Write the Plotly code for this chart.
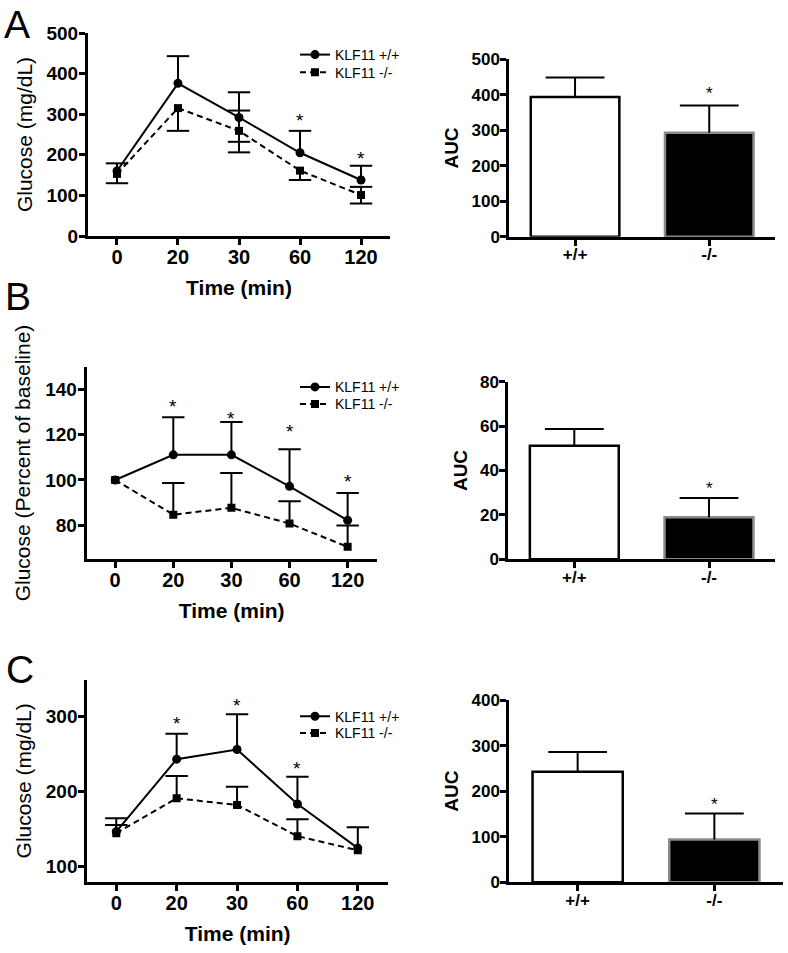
import plotly.graph_objects as go

# ---------------- data ----------------
time_labels = ["0", "20", "30", "60", "120"]
series_names = ["KLF11 +/+", "KLF11 -/-"]
bar_labels = ["+/+", "-/-"]

# Panel A (glucose mg/dL)
a_wt = [160, 376, 292, 205, 138]
a_wt_up = [19, 67, 62, 54, 35]
a_wt_dn = [None, None, 60, None, None]
a_ko = [153, 315, 259, 161, 101]
a_ko_up = [None, None, 50, None, 20]
a_ko_dn = [23, 56, 53, 23, 21]
a_star_idx = [3, 4]
a_star_y = [298, 204]
a_auc = [394, 293]
a_auc_err = [55, 77]
a_auc_star = 415

# Panel B (percent of baseline)
b_wt = [100, 111.1, 111.1, 97.2, 82.2]
b_wt_up = [None, 16.6, 14.5, 16.4, 12.1]
b_wt_dn = [None, None, None, None, None]
b_ko = [100, 84.7, 87.7, 80.8, 70.5]
b_ko_up = [None, 14.0, 15.4, 9.8, 9.4]
b_ko_dn = [None, None, None, None, None]
b_star_idx = [1, 2, 3, 4]
b_star_y = [134.5, 129.5, 123.6, 101.6]
b_auc = [51.2, 18.9]
b_auc_err = [7.5, 8.7]
b_auc_star = 33.8

# Panel C (glucose mg/dL)
c_wt = [146, 243, 256, 183, 124]
c_wt_up = [18, 34, 47, 36.5, 28]
c_wt_dn = [None, None, None, None, None]
c_ko = [144, 190.6, 181.7, 140, 121]
c_ko_up = [11, 30, 24.5, 22.5, None]
c_ko_dn = [None, None, None, None, None]
c_star_idx = [1, 2, 3]
c_star_y = [297.7, 322, 237]
c_auc = [242.5, 94]
c_auc_err = [43.5, 57]
c_auc_star = 179

# ---------------- layout helpers ----------------
W, H = 788, 953
FONT = "Liberation Sans, Arial, sans-serif"


def xd(a, b):
    return [a / W, b / W]


def yd(top, bottom):
    return [1 - bottom / H, 1 - top / H]


fig = go.Figure()


def err_traces(xs, means, ups, downs, xa, ya, hat):
    sx, sy, hx, hy = [], [], [], []
    for x, m, u, d in zip(xs, means, ups, downs):
        for e, sgn in ((u, 1), (d, -1)):
            if e is None:
                continue
            sx += [x, x, None]
            sy += [m, m + sgn * e, None]
            hx.append(x)
            hy.append(m + sgn * e)
    fig.add_trace(go.Scatter(x=sx, y=sy, mode="lines", line=dict(color="black", width=2),
                             xaxis=xa, yaxis=ya, showlegend=False, hoverinfo="skip"))
    fig.add_trace(go.Scatter(x=hx, y=hy, mode="markers",
                             marker=dict(symbol="line-ew", size=hat,
                                         line=dict(color="black", width=2)),
                             xaxis=xa, yaxis=ya, showlegend=False, hoverinfo="skip"))


def line_panel(n, wt, wt_up, wt_dn, ko, ko_up, ko_dn, star_idx, star_y, leg_wt, leg_ko):
    xa, ya = f"x{n}", f"y{n}"
    xs = list(range(len(time_labels)))
    err_traces(xs, ko, ko_up, ko_dn, xa, ya, 16)
    err_traces(xs, wt, wt_up, wt_dn, xa, ya, 16)
    fig.add_trace(go.Scatter(x=xs, y=wt, mode="lines+markers", name=series_names[0],
                             line=dict(color="black", width=2),
                             marker=dict(symbol="circle", size=9, color="black"),
                             xaxis=xa, yaxis=ya, legend=leg_wt))
    fig.add_trace(go.Scatter(x=xs, y=ko, mode="lines+markers", name=series_names[1],
                             line=dict(color="black", width=2, dash="6px,4px"),
                             marker=dict(symbol="square", size=8, color="black"),
                             xaxis=xa, yaxis=ya, legend=leg_ko))
    for i, sy in zip(star_idx, star_y):
        fig.add_annotation(x=i, y=sy, xref=xa, yref=ya, text="*", showarrow=False,
                           yshift=-5, font=dict(family=FONT, size=19, color="black"))


def bar_panel(n, vals, errs, star):
    xa, ya = f"x{n}", f"y{n}"
    xs = [0, 1]
    fig.add_trace(go.Bar(x=xs, y=vals, width=0.66,
                         marker=dict(color=["white", "black"],
                                     line=dict(color=["black", "#8a8a8a"], width=2.5)),
                         xaxis=xa, yaxis=ya, showlegend=False))
    err_traces(xs, vals, errs, [None, None], xa, ya, 42)
    fig.add_annotation(x=1, y=star, xref=xa, yref=ya, text="*", showarrow=False,
                       yshift=-4, font=dict(family=FONT, size=17, color="black"))


line_panel(1, a_wt, a_wt_up, a_wt_dn, a_ko, a_ko_up, a_ko_dn, a_star_idx, a_star_y, "legend", "legend4")
bar_panel(2, a_auc, a_auc_err, a_auc_star)
line_panel(3, b_wt, b_wt_up, b_wt_dn, b_ko, b_ko_up, b_ko_dn, b_star_idx, b_star_y, "legend2", "legend5")
bar_panel(4, b_auc, b_auc_err, b_auc_star)
line_panel(5, c_wt, c_wt_up, c_wt_dn, c_ko, c_ko_up, c_ko_dn, c_star_idx, c_star_y, "legend3", "legend6")
bar_panel(6, c_auc, c_auc_err, c_auc_star)

axis_common = dict(showline=True, linewidth=3, linecolor="black", ticks="outside",
                   ticklen=6, tickwidth=2.5, tickcolor="black", showgrid=False,
                   zeroline=False, fixedrange=True, automargin=False)

panels = {
    1: dict(x=xd(88, 390), y=yd(33, 236), xr=[-0.475, 4.475], yr=[0, 500],
            yt=[0, 100, 200, 300, 400, 500], line=True, ytitle="Glucose (mg/dL)"),
    2: dict(x=xd(509.3, 775), y=yd(59.3, 236.7), xr=[-0.49, 1.49], yr=[0, 500],
            yt=[0, 100, 200, 300, 400, 500], line=False, ytitle="AUC"),
    3: dict(x=xd(86.7, 376.7), y=yd(366.7, 559.3), xr=[-0.49, 4.5], yr=[65, 150],
            yt=[80, 100, 120, 140], line=True, ytitle="Glucose (Percent of baseline)"),
    4: dict(x=xd(508.3, 775), y=yd(381.7, 559.3), xr=[-0.49, 1.49], yr=[0, 80],
            yt=[0, 20, 40, 60, 80], line=False, ytitle="AUC"),
    5: dict(x=xd(87.3, 388), y=yd(680, 881.7), xr=[-0.48, 4.5], yr=[79, 349],
            yt=[100, 200, 300], line=True, ytitle="Glucose (mg/dL)"),
    6: dict(x=xd(509.3, 782.7), y=yd(700, 882.3), xr=[-0.5, 1.5], yr=[0, 400],
            yt=[0, 100, 200, 300, 400], line=False, ytitle="AUC"),
}

layout_axes = {}
for n, p in panels.items():
    xk = "xaxis" if n == 1 else f"xaxis{n}"
    yk = "yaxis" if n == 1 else f"yaxis{n}"
    if p["line"]:
        xticks = dict(tickvals=list(range(len(time_labels))), ticktext=time_labels,
                      ticklabelstandoff=-5,
                      tickfont=dict(family=FONT, size=20, color="black", weight="bold"),
                      title=dict(text="Time (min)", standoff=14,
                                 font=dict(family=FONT, size=21, color="black", weight="bold")))
        yfont = dict(family=FONT, size=19, color="black", weight="bold")
        ytitle = dict(text=p["ytitle"], standoff=9,
                      font=dict(family=FONT, size=21, color="black"))
    else:
        xticks = dict(tickvals=[0, 1], ticktext=bar_labels, ticklabelstandoff=-6,
                      tickfont=dict(family=FONT, size=17, color="black", weight="bold"))
        yfont = dict(family=FONT, size=17, color="black", weight="bold")
        ytitle = dict(text=p["ytitle"], standoff=8,
                      font=dict(family=FONT, size=19, color="black", weight="bold"))
    layout_axes[xk] = dict(domain=p["x"], range=p["xr"], anchor=f"y{n}", **xticks, **axis_common)
    layout_axes[yk] = dict(domain=p["y"], range=p["yr"], anchor=f"x{n}", tickvals=p["yt"],
                           ticklabelstandoff=-3, tickfont=yfont, title=ytitle, **axis_common)

fig.update_layout(**layout_axes)

legend_common = dict(font=dict(family=FONT, size=14, color="black"), bgcolor="rgba(0,0,0,0)",
                     xanchor="left", yanchor="middle", itemwidth=30, tracegroupgap=0)
leg_x = 295 / W
fig.update_layout(
    width=W, height=H, margin=dict(l=0, r=0, t=0, b=0, autoexpand=False),
    paper_bgcolor="white", plot_bgcolor="white", showlegend=True,
    legend=dict(x=leg_x, y=1 - 55 / H, **legend_common),
    legend4=dict(x=leg_x, y=1 - 72.7 / H, **legend_common),
    legend2=dict(x=leg_x, y=1 - 387.3 / H, **legend_common),
    legend5=dict(x=leg_x, y=1 - 404.3 / H, **legend_common),
    legend3=dict(x=leg_x, y=1 - 716.7 / H, **legend_common),
    legend6=dict(x=leg_x, y=1 - 733.3 / H, **legend_common),
)

for letter, cx, cy in (("A", 17, 24), ("B", 18, 296), ("C", 20, 669)):
    fig.add_annotation(x=cx / W, y=1 - cy / H, xref="paper", yref="paper", text=letter,
                       showarrow=False, xanchor="center", yanchor="middle",
                       font=dict(family=FONT, size=39, color="black"))

fig.write_html("out.html", config={"displayModeBar": False},
               post_script="document.body.style.margin='0px';")
